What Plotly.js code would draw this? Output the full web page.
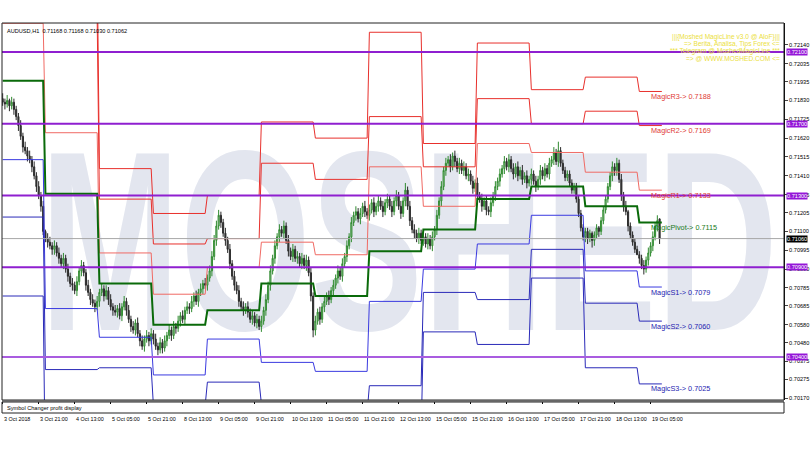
<!DOCTYPE html>
<html><head><meta charset="utf-8">
<script src="https://cdn.plot.ly/plotly-3.0.1.min.js"></script>
<style>
html,body{margin:0;padding:0;background:#fff;}
#wrap{position:relative;width:810px;height:450px;overflow:hidden;}
#wm{position:absolute;left:0;top:0;}
#chart{position:absolute;left:0;top:0;width:810px;height:450px;}
</style></head><body>
<div id="wrap">
<svg id="wm" width="810" height="450"><text id="wmt" x="0" y="0" font-family="Liberation Sans" font-weight="bold" font-size="256" fill="#e3e6ef">MOSHED</text></svg>
<div id="chart"></div></div>
<script>
// prices stored in pips (price x 10000)
const PIPS = 10000;
const symbolTitle = "AUDUSD,H1  0.71168 0.71168 0.71030 0.71062";
const openP = [7184,7182,7181,7183,7180,7182,7178,7174,7169,7163,
7157,7155,7152,7150,7146,7141,7135,7130,7124,7110,
7106,7104,7102,7100,7102,7098,7095,7092,7095,7089,
7085,7081,7080,7077,7082,7088,7091,7087,7080,7076,
7072,7070,7068,7071,7076,7078,7074,7077,7072,7068,
7066,7065,7067,7063,7068,7071,7066,7061,7057,7055,
7059,7053,7049,7046,7050,7052,7049,7053,7050,7046,
7044,7048,7045,7049,7052,7055,7052,7057,7056,7060,
7063,7061,7066,7068,7067,7071,7074,7071,7076,7078,
7081,7080,7084,7088,7096,7105,7113,7119,7115,7109,
7105,7100,7092,7085,7080,7077,7071,7068,7066,7068,
7065,7061,7063,7059,7061,7057,7060,7066,7072,7080,
7088,7095,7102,7107,7111,7109,7113,7105,7099,7096,
7100,7095,7096,7092,7095,7091,7094,7087,7074,7055,
7060,7065,7061,7068,7071,7074,7072,7077,7080,7084,
7088,7085,7092,7096,7102,7107,7115,7119,7121,7117,
7120,7124,7121,7119,7122,7126,7121,7124,7127,7124,
7121,7126,7128,7124,7121,7127,7130,7124,7120,7127,
7133,7124,7116,7111,7109,7106,7109,7105,7107,7103,
7106,7102,7107,7111,7119,7127,7135,7144,7148,7150,
7146,7152,7149,7145,7148,7144,7146,7141,7142,7138,
7134,7137,7130,7128,7124,7127,7122,7121,7126,7130,
7135,7138,7142,7145,7149,7146,7150,7145,7142,7146,
7141,7144,7139,7141,7137,7139,7142,7138,7135,7139,
7144,7141,7145,7142,7148,7150,7154,7149,7155,7148,
7144,7140,7142,7137,7133,7135,7128,7120,7112,7107,
7110,7106,7109,7105,7108,7112,7110,7116,7122,7128,
7135,7141,7146,7144,7148,7139,7130,7124,7121,7113,
7108,7104,7100,7097,7095,7091,7089,7094,7098,7102,
7107,7113,7117];
const highP = [7187,7184,7186,7184,7185,7184,7180,7176,7172,7165,
7160,7157,7155,7152,7149,7143,7138,7132,7127,7111,
7109,7107,7104,7105,7104,7101,7097,7098,7097,7092,
7087,7084,7082,7085,7090,7094,7093,7089,7083,7078,
7075,7072,7074,7078,7081,7080,7080,7079,7075,7070,
7069,7069,7070,7070,7074,7073,7069,7063,7060,7061,
7062,7055,7052,7052,7055,7054,7056,7055,7053,7048,
7051,7050,7052,7054,7058,7057,7060,7059,7063,7065,
7066,7068,7071,7070,7074,7076,7077,7078,7081,7083,
7084,7086,7091,7099,7108,7116,7122,7121,7117,7112,
7107,7103,7094,7088,7082,7080,7073,7071,7070,7071,
7067,7066,7065,7064,7063,7063,7068,7075,7082,7091,
7097,7105,7109,7114,7113,7116,7115,7108,7101,7103,
7102,7099,7098,7098,7097,7097,7096,7090,7076,7063,
7067,7068,7070,7074,7076,7077,7079,7083,7086,7091,
7090,7095,7098,7105,7109,7118,7121,7124,7123,7123,
7126,7127,7123,7125,7128,7129,7126,7130,7129,7127,
7128,7131,7130,7127,7129,7133,7132,7127,7129,7137,
7135,7127,7118,7114,7111,7112,7111,7110,7109,7109,
7108,7110,7113,7122,7129,7138,7146,7151,7152,7153,
7154,7155,7151,7151,7150,7149,7148,7145,7144,7141,
7139,7140,7132,7131,7129,7130,7124,7129,7132,7138,
7140,7145,7147,7152,7151,7153,7152,7148,7148,7149,
7146,7147,7143,7144,7141,7145,7144,7141,7141,7147,
7146,7148,7147,7151,7152,7157,7156,7160,7157,7150,
7146,7144,7144,7139,7137,7137,7130,7122,7114,7112,
7112,7111,7110,7110,7114,7113,7118,7124,7130,7137,
7143,7149,7148,7151,7150,7142,7132,7127,7122,7115,
7110,7106,7102,7099,7097,7094,7096,7101,7104,7110,
7115,7119,7117];
const lowP = [7180,7178,7179,7177,7178,7175,7172,7166,7161,7154,
7153,7149,7148,7143,7139,7132,7128,7121,7108,7104,
7101,7100,7097,7097,7096,7092,7090,7089,7087,7082,
7079,7077,7075,7074,7080,7085,7085,7077,7074,7069,
7068,7065,7066,7068,7074,7071,7072,7069,7066,7063,
7063,7062,7061,7060,7066,7063,7059,7054,7053,7052,
7051,7046,7044,7043,7048,7046,7047,7047,7044,7041,
7042,7042,7043,7046,7050,7049,7050,7053,7054,7057,
7059,7058,7064,7064,7065,7068,7069,7068,7074,7075,
7078,7077,7082,7085,7094,7102,7111,7112,7107,7102,
7098,7089,7083,7077,7075,7068,7066,7063,7064,7062,
7059,7058,7057,7056,7055,7054,7058,7063,7070,7077,
7086,7092,7100,7104,7107,7106,7103,7096,7094,7093,
7093,7092,7090,7089,7089,7088,7085,7071,7051,7052,
7058,7058,7059,7065,7069,7069,7070,7074,7078,7081,
7083,7082,7090,7093,7100,7104,7113,7116,7115,7114,
7118,7118,7117,7116,7120,7118,7119,7121,7122,7118,
7119,7123,7122,7118,7119,7124,7122,7117,7118,7124,
7122,7113,7109,7106,7104,7103,7103,7102,7101,7100,
7100,7099,7105,7108,7117,7124,7133,7141,7146,7143,
7144,7146,7143,7142,7142,7141,7139,7138,7136,7131,
7132,7127,7126,7121,7122,7119,7119,7118,7124,7127,
7133,7135,7140,7142,7144,7143,7143,7139,7140,7138,
7139,7136,7137,7134,7135,7136,7136,7132,7133,7136,
7139,7138,7140,7139,7146,7147,7147,7146,7146,7142,
7138,7138,7135,7131,7131,7126,7118,7110,7105,7104,
7103,7104,7101,7102,7106,7107,7108,7114,7120,7126,
7133,7138,7141,7141,7137,7127,7121,7119,7110,7106,
7102,7098,7097,7092,7089,7086,7087,7091,7096,7099,
7105,7110,7103];
const closeP = [7182,7181,7183,7180,7182,7178,7174,7169,7163,7157,
7155,7152,7150,7146,7141,7135,7130,7124,7110,7106,
7104,7102,7100,7102,7098,7095,7092,7095,7089,7085,
7081,7080,7077,7082,7088,7091,7087,7080,7076,7072,
7070,7068,7071,7076,7078,7074,7077,7072,7068,7066,
7065,7067,7063,7068,7071,7066,7061,7057,7055,7059,
7053,7049,7046,7050,7052,7049,7053,7050,7046,7044,
7048,7045,7049,7052,7055,7052,7057,7056,7060,7063,
7061,7066,7068,7067,7071,7074,7071,7076,7078,7081,
7080,7084,7088,7096,7105,7113,7119,7115,7109,7105,
7100,7092,7085,7080,7077,7071,7068,7066,7068,7065,
7061,7063,7059,7061,7057,7060,7066,7072,7080,7088,
7095,7102,7107,7111,7109,7113,7105,7099,7096,7100,
7095,7096,7092,7095,7091,7094,7087,7074,7055,7060,
7065,7061,7068,7071,7074,7072,7077,7080,7084,7088,
7085,7092,7096,7102,7107,7115,7119,7121,7117,7120,
7124,7121,7119,7122,7126,7121,7124,7127,7124,7121,
7126,7128,7124,7121,7127,7130,7124,7120,7127,7133,
7124,7116,7111,7109,7106,7109,7105,7107,7103,7106,
7102,7107,7111,7119,7127,7135,7144,7148,7150,7146,
7152,7149,7145,7148,7144,7146,7141,7142,7138,7134,
7137,7130,7128,7124,7127,7122,7121,7126,7130,7135,
7138,7142,7145,7149,7146,7150,7145,7142,7146,7141,
7144,7139,7141,7137,7139,7142,7138,7135,7139,7144,
7141,7145,7142,7148,7150,7154,7149,7155,7148,7144,
7140,7142,7137,7133,7135,7128,7120,7112,7107,7110,
7106,7109,7105,7108,7112,7110,7116,7122,7128,7135,
7141,7146,7144,7148,7139,7130,7124,7121,7113,7108,
7104,7100,7097,7095,7091,7089,7094,7098,7102,7107,
7113,7116,7106];

// daily pivot levels (one value per trading day), pips
const dayStart = [0,19,43,67,91,115,139,163,187,211,235,259,283];
const dayEnd   = [18,42,66,90,114,138,162,186,210,234,258,282,293];
const pivotLv = [7194,7131,7081,7058,7066,7081,7074,7099,7111,7128,7135,7124,7115];
const r1Lv = [7226,7165,7098,7075,7090,7104,7097,7146,7124,7159,7154,7143,7133];
const r2Lv = [7270,7229,7128,7103,7106,7148,7139,7174,7146,7184,7170,7177,7169];
const r3Lv = [7302,7263,7145,7120,7130,7171,7162,7221,7159,7215,7189,7196,7188];
const s1Lv = [7150,7067,7051,7030,7050,7037,7032,7071,7089,7103,7119,7088,7079];
const s2Lv = [7118,7033,7034,7013,7026,7014,7009,7024,7076,7072,7100,7070,7060];
const s3Lv = [7074,6969,7004,6985,7010,6970,6967,6996,7054,7047,7084,7034,7025];
const levelNames = ["MagicR3","MagicR2","MagicR1","MagicPivot","MagicS1","MagicS2","MagicS3"];

// horizontal round-number levels
const keyLevels = [0.72100,0.71700,0.71300,0.70900,0.70400];

// axis ticks
const xTickIdx = [0,16,32,48,64,80,96,112,128,144,160,176,192,208,224,240,256,272,288];
const xTickText = ["3 Oct 2018","3 Oct 21:00","4 Oct 13:00","5 Oct 05:00","5 Oct 21:00","8 Oct 13:00","9 Oct 05:00","9 Oct 21:00","10 Oct 13:00","11 Oct 05:00","11 Oct 21:00","12 Oct 13:00","15 Oct 05:00","15 Oct 21:00","16 Oct 13:00","17 Oct 05:00","17 Oct 21:00","18 Oct 13:00","19 Oct 05:00"];
const yTickVals = [0.72140,0.72035,0.71935,0.71830,0.71725,0.71620,0.71515,0.71410,0.71305,0.71205,0.71100,0.70995,0.70890,0.70785,0.70685,0.70580,0.70480,0.70375,0.70275,0.70170];

const infoLines = ["|||{Moshed MagicLine v3.0 @ AloF}|||","=> Berita, Analisa, Tips Forex <=","*** Telegram @ MoshedMagicLine ***","=> @ WWW.MOSHED.COM <="];

// watermark: fit the word into its box with a horizontal scale
(function () {
  const t = document.getElementById('wmt');
  const w = t.getComputedTextLength();
  const boxLeft = 40, boxWidth = 738, baseline = 330;
  t.setAttribute('transform', 'translate(' + boxLeft + ',' + baseline + ') scale(' + (boxWidth / w).toFixed(4) + ',1)');
})();

const toP = a => a.map(v => v / PIPS);
const bars = closeP.map((_, i) => i);

const traces = [];
function levelTrace(lv, color, width) {
  const x = [], y = [];
  lv.forEach((v, d) => { x.push(dayStart[d], dayEnd[d]); y.push(v / PIPS, v / PIPS); });
  return {type:'scatter', mode:'lines', x, y, xaxis:'x', yaxis:'y', line:{color, width}, hoverinfo:'skip', showlegend:false};
}
traces.push(levelTrace(r3Lv, '#e8302c', 1));
traces.push(levelTrace(r2Lv, '#e8302c', 1));
traces.push(levelTrace(r1Lv, '#f06a64', 1));
traces.push(levelTrace(s1Lv, '#3a3ae0', 1));
traces.push(levelTrace(s2Lv, '#2a2ab8', 1));
traces.push(levelTrace(s3Lv, '#2a2ab8', 1));
traces.push(levelTrace(pivotLv, '#0a6a0a', 2));

traces.push({
  type:'candlestick', x:bars, open:toP(openP), high:toP(highP), low:toP(lowP), close:toP(closeP),
  xaxis:'x', yaxis:'y',
  increasing:{line:{color:'#2f8a2f', width:1}, fillcolor:'#a8cfa8'},
  decreasing:{line:{color:'#2a2a2a', width:1}, fillcolor:'#3a3a3a'},
  whiskerwidth:0, hoverinfo:'skip', showlegend:false
});

const lastClose = closeP[closeP.length - 1] / PIPS;
const lastDay = dayStart.length - 1;
const shapes = [];
keyLevels.forEach((v, k) => shapes.push({type:'line', xref:'paper', x0:0, x1:1, yref:'y', y0:v, y1:v,
  line:{color: k === keyLevels.length - 1 ? '#a95ce0' : '#8f1fd0', width:2}}));
shapes.push({type:'line', xref:'paper', x0:0, x1:1, yref:'y', y0:lastClose, y1:lastClose, line:{color:'#a8a8a8', width:1}});
// window frames
shapes.push({type:'rect', xref:'paper', yref:'paper', x0:0, x1:1, y0:0.0333, y1:1, line:{color:'#222', width:1}});
shapes.push({type:'rect', xref:'paper', yref:'paper', x0:0, x1:1, y0:0, y1:0.0282, line:{color:'#222', width:1}});
shapes.push({type:'line', xref:'paper', yref:'paper', x0:0, x1:1, y0:0.0308, y1:0.0308, line:{color:'#666', width:2}});

const ann = [];
ann.push({xref:'paper', yref:'paper', x:0, y:1, xanchor:'left', yanchor:'top', xshift:3, yshift:-3, text:symbolTitle, showarrow:false, font:{size:5.6, color:'#000'}});
ann.push({xref:'paper', yref:'paper', x:0, y:0.014, xanchor:'left', yanchor:'middle', xshift:3, text:'Symbol Changer profit display', showarrow:false, font:{size:5.6, color:'#000'}});
infoLines.forEach((t, k) => ann.push({xref:'paper', yref:'paper', x:1, y:1, xanchor:'right', yanchor:'middle', xshift:-2, yshift:-14 - k * 7, text:t, showarrow:false, font:{size:6.6, color:'#ebe03c'}}));
xTickIdx.forEach((v, k) => ann.push({xref:'x', yref:'paper', x:v, y:0, xanchor:'left', yanchor:'top', xshift:-1, yshift:-1, text:xTickText[k], showarrow:false, font:{size:5.4, color:'#000'}}));
keyLevels.forEach(v => ann.push({xref:'paper', yref:'y', x:1, y:v, xanchor:'left', yanchor:'middle', xshift:2, text:v.toFixed(5), showarrow:false, bgcolor:'#9416d8', borderpad:0, font:{size:5.6, color:'#fff'}}));
ann.push({xref:'paper', yref:'y', x:1, y:lastClose, xanchor:'left', yanchor:'middle', xshift:2, text:lastClose.toFixed(5), showarrow:false, bgcolor:'#000', borderpad:0, font:{size:5.6, color:'#fff'}});
const finalVals = [r3Lv, r2Lv, r1Lv, pivotLv, s1Lv, s2Lv, s3Lv].map(a => a[lastDay]);
const finalColors = ['#e03a36','#e03a36','#e03a36','#1a7a1a','#2424b0','#2424b0','#2424b0'];
finalVals.forEach((v, k) => ann.push({xref:'x', yref:'y', x:dayStart[lastDay] + 4.5, y:v / PIPS, xanchor:'left', yanchor:'middle', yshift:-5, text:levelNames[k] + '-> ' + (v / PIPS).toFixed(4), showarrow:false, font:{size:7.3, color:finalColors[k]}}));

const layout = {
  width:810, height:450,
  margin:{l:2, r:26, t:23, b:37},
  paper_bgcolor:'rgba(0,0,0,0)', plot_bgcolor:'rgba(0,0,0,0)',
  font:{family:'Liberation Sans', size:6, color:'#000'},
  showlegend:false,
  xaxis:{anchor:'y2', range:[-0.3, 347.3], showgrid:false, zeroline:false, showticklabels:false,
    tickmode:'array', tickvals:xTickIdx, ticks:'outside', ticklen:3, tickcolor:'#000',
    rangeslider:{visible:false}, showline:false},
  yaxis:{domain:[0.0333,1], side:'right', range:[0.701603, 0.722616], showgrid:false, zeroline:false,
    tickmode:'array', tickvals:yTickVals, ticktext:yTickVals.map(v => v.toFixed(5)), ticks:'outside', ticklen:3,
    tickfont:{size:5.6, color:'#000'}, showline:true, linecolor:'#000', linewidth:1},
  yaxis2:{domain:[0,0.0282], range:[0,1], showgrid:false, zeroline:false, showticklabels:false, side:'right', anchor:'x'},
  shapes, annotations:ann
};
Plotly.newPlot('chart', traces, layout, {displayModeBar:false, staticPlot:true});
</script>
</body></html>
